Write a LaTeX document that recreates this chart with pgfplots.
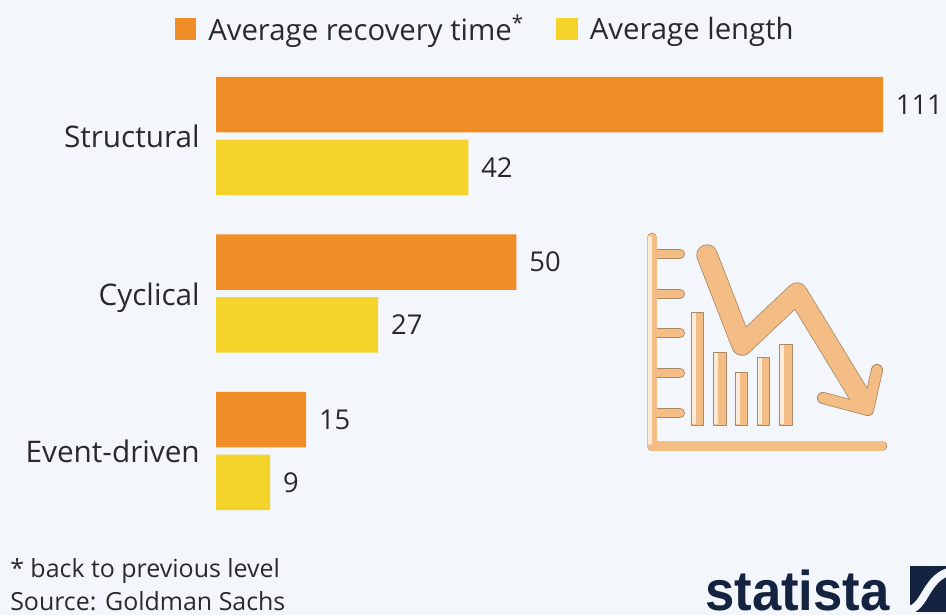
\documentclass[border=0pt]{standalone}
\usepackage{fontspec}
\setmainfont{Open Sans}
\newfontfamily\logofont{Liberation Sans}
\usepackage{pgfplots}
\pgfplotsset{compat=1.18}
\usepackage{pgfplotstable}
\definecolor{bg}{HTML}{F3F7FB}
\definecolor{org}{HTML}{F08D27}
\definecolor{yel}{HTML}{F4D32B}
\definecolor{txt}{HTML}{2A2A2A}
\definecolor{ico}{HTML}{F4BD85}
\definecolor{icoline}{HTML}{A98A66}
\definecolor{navy}{HTML}{14233F}
\pgfplotstableread{
y rec len
0 111 42
1 50 27
2 15 9
}\datatable
\begin{document}
\begin{tikzpicture}
\clip (0pt,0pt) rectangle (709.5pt,-461.25pt);
\fill[bg] (0pt,0pt) rectangle (709.5pt,-461.25pt);
\begin{axis}[
  at={(162pt,-397.3pt)},anchor=south west,
  scale only axis,
  width=500.25pt,height=354.375pt,
  xmin=0,xmax=111,ymin=-0.5,ymax=2.5,
  y dir=reverse,
  axis lines=none,
  clip=false,
  xbar,
  bar width=41.6pt,
  nodes near coords,
  every node near coord/.append style={font=\fontsize{20.5}{24}\selectfont,text=txt,anchor=west,inner xsep=9.5pt,
    /pgf/number format/assume math mode=true},
  legend columns=2,
  legend style={draw=none,fill=none,at={(0,0)},anchor=south west,xshift=-31pt,yshift=363pt,
    font=\fontsize{22}{24}\selectfont,text=txt,inner sep=0pt,
    /tikz/every even column/.append style={column sep=22.5pt}},
  legend image code/.code={\fill[#1] (0pt,-8pt) rectangle (16pt,8pt);\path (23pt,0pt);},
]
\addplot[fill=org,draw=none,bar shift=23.6pt] table[x=rec,y=y]{\datatable};
\addlegendentry{Average recovery time\textsuperscript{*}}
\addplot[fill=yel,draw=none,bar shift=-23.6pt] table[x=len,y=y]{\datatable};
\addlegendentry{Average length}
\end{axis}
\begin{scope}[x=0.75pt,y=-0.75pt]
% category names
\begin{scope}[every node/.style={anchor=base east,font=\fontsize{22.3}{24}\selectfont,text=txt,inner sep=0pt}]
\node at (200,147) {Structural};
\node at (200,305) {Cyclical};
\node at (200,462) {Event-driven};
\end{scope}
% footer
\begin{scope}[every node/.style={anchor=base west,font=\fontsize{18.7}{20}\selectfont,text=txt,inner sep=0pt}]
\node at (10,577) {* back to previous level};
\node at (10,610) {Source: Goldman Sachs};
\end{scope}
% icon
\begin{scope}[line cap=round,line join=round]
\foreach \yy in {254,294,333,373,413} {
  \draw[icoline,line width=7.5pt] (655,\yy)--(680,\yy);
  \draw[ico,line width=6.2pt] (655,\yy)--(680,\yy);
}
\draw[icoline,line width=8pt] (652,238)--(652,446)--(882,446);
\draw[ico,line width=6.8pt] (652,238)--(652,446)--(882,446);
\draw[white!70!ico,line width=3pt] (650,238)--(650,443);
\foreach \a/\b/\t in {691/703/312,713/726/352,735/747/372,757/769/357,779/792/344} {
  \fill[ico,draw=icoline,line width=.6pt,line cap=butt] (\a,\t) rectangle (\b,425);
  \fill[white!70!ico] (\a+1,\t+1) rectangle (\a+5,424);
}
\draw[icoline,line width=16pt] (707,255)--(742,345)--(797,293)--(864,403);
\draw[icoline,line width=9pt] (877,370)--(868,410)--(823,398);
\draw[ico,line width=14.8pt] (707,255)--(742,345)--(797,293)--(864,403);
\draw[ico,line width=7.8pt] (877,370)--(868,410)--(823,398);
\end{scope}
% logo
\node[anchor=base west,inner sep=0pt,text=navy,font=\logofont\bfseries\fontsize{42}{44}\selectfont,xscale=0.94] at (705,610) {statista};
\fill[navy] (910,566) rectangle (946,612);
\draw[bg,line width=6pt] (908,610) .. controls (925,608) and (925,580) .. (948,572);
\end{scope}
\end{tikzpicture}
\end{document}
